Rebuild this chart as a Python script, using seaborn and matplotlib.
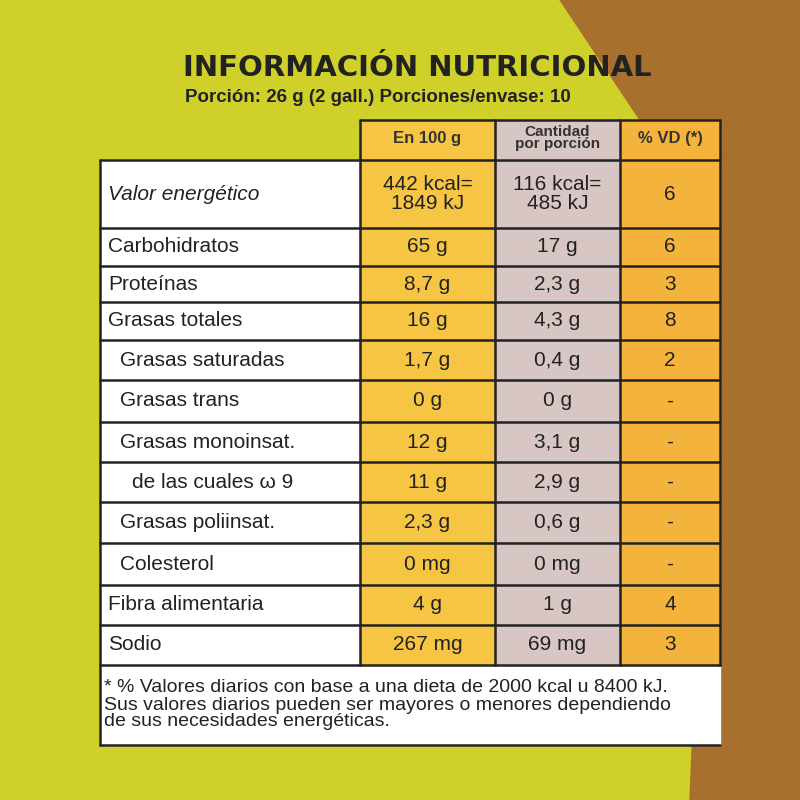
import matplotlib
matplotlib.use("Agg")
import matplotlib.pyplot as plt
from matplotlib.patches import Rectangle, Polygon
import seaborn as sns

sns.set_style("white")
plt.rcParams["font.family"] = ["Liberation Sans", "DejaVu Sans"]

# Label data
title = "INFORMACIÓN NUTRICIONAL"
subtitle = "Porción: 26 g (2 gall.) Porciones/envase: 10"
headers = ["En 100 g", "Cantidad\npor porción", "% VD (*)"]
nutrients = ["Valor energético", "Carbohidratos", "Proteínas", "Grasas totales",
             "Grasas saturadas", "Grasas trans", "Grasas monoinsat.",
             "de las cuales ω 9", "Grasas poliinsat.", "Colesterol",
             "Fibra alimentaria", "Sodio"]
indent = [0, 0, 0, 0, 1, 1, 1, 2, 1, 1, 0, 0]
per_100g = ["442 kcal=\n1849 kJ", "65 g", "8,7 g", "16 g", "1,7 g", "0 g", "12 g",
            "11 g", "2,3 g", "0 mg", "4 g", "267 mg"]
per_portion = ["116 kcal=\n485 kJ", "17 g", "2,3 g", "4,3 g", "0,4 g", "0 g", "3,1 g",
               "2,9 g", "0,6 g", "0 mg", "1 g", "69 mg"]
pct_vd = ["6", "6", "3", "8", "2", "-", "-", "-", "-", "-", "4", "3"]
footnote = ("* % Valores diarios con base a una dieta de 2000 kcal u 8400 kJ.\n"
            "Sus valores diarios pueden ser mayores o menores dependiendo\n"
            "de sus necesidades energéticas.")

row_edges = [160, 228, 266, 302, 340, 380, 422, 462, 502, 543, 585, 625, 665]
col_edges = [100, 360, 495, 620, 720]
col_colors = ["#ffffff", "#f6c544", "#d8c6c4", "#f4b43c"]

fig = plt.figure(figsize=(8, 8), dpi=100)
ax = fig.add_axes([0, 0, 1, 1])
ax.set_xlim(0, 800)
ax.set_ylim(800, 0)
ax.axis("off")

# background: yellow packaging with brown on the right
ax.add_patch(Rectangle((0, 0), 800, 800, color="#cfd12a", zorder=0))
ax.add_patch(Polygon([[560, 0], [800, 0], [800, 800], [690, 800], [700, 560],
                      [690, 300], [640, 120]], color="#a8702e", zorder=0))

# table body
ax.add_patch(Rectangle((100, 160), 620, 585, color="white", zorder=1))
for j in range(1, 4):
    ax.add_patch(Rectangle((col_edges[j], 120), col_edges[j + 1] - col_edges[j],
                           545, color=col_colors[j], zorder=1))
    ax.text((col_edges[j] + col_edges[j + 1]) / 2, 138, headers[j - 1], ha="center",
            va="center", fontsize=12 if j != 2 else 11, fontweight="bold",
            color="#333", linespacing=0.85, zorder=3)

for y in row_edges:
    ax.plot([100, 720], [y, y], color="#222", lw=1.8, zorder=2)
ax.plot([100, 720], [745, 745], color="#222", lw=1.8, zorder=2)
for x in col_edges:
    ax.plot([x, x], [120 if x > 100 else 160, 665 if x > 100 else 745],
            color="#222", lw=1.8, zorder=2)
ax.plot([360, 720], [120, 120], color="#222", lw=1.8, zorder=2)

for i, name in enumerate(nutrients):
    yc = (row_edges[i] + row_edges[i + 1]) / 2
    ax.text(108 + indent[i] * 12, yc, name, ha="left", va="center", fontsize=15,
            color="#222", zorder=3, style="italic" if i == 0 else "normal")
    for j, vals in enumerate([per_100g, per_portion, pct_vd]):
        ax.text((col_edges[j + 1] + col_edges[j + 2]) / 2, yc, vals[i], ha="center",
                va="center", fontsize=15, color="#222", zorder=3, linespacing=1.05)

ax.text(183, 68, title, ha="left", va="center", fontsize=21, fontweight="heavy",
        family="DejaVu Sans", color="#222")
ax.text(185, 98, subtitle, ha="left", va="center", fontsize=13.5, fontweight="bold",
        color="#222")
ax.text(104, 705, footnote, ha="left", va="center", fontsize=14, color="#222",
        linespacing=1.0, zorder=3)

fig.savefig("out.png", dpi=100)
plt.close(fig)
